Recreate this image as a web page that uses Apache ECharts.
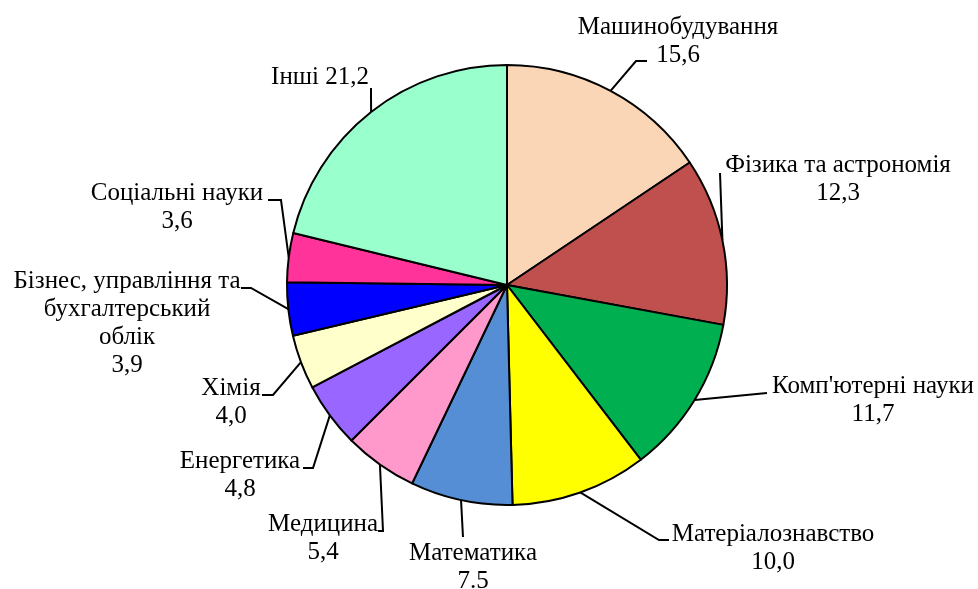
<!DOCTYPE html>
<html>
<head>
<meta charset="utf-8">
<script src="https://cdn.jsdelivr.net/npm/echarts@6/dist/echarts.min.js"></script>
<style>
html,body{margin:0;padding:0;background:#fff;}
#chart{width:978px;height:589px;}
</style>
</head>
<body>
<div id="chart"></div>
<script>
// ---- data ----
const categories = [
  'Машинобудування',
  'Фізика та астрономія',
  "Комп'ютерні науки",
  'Матеріалознавство',
  'Математика',
  'Медицина',
  'Енергетика',
  'Хімія',
  'Бізнес, управління та\nбухгалтерський\nоблік',
  'Соціальні науки',
  'Інші'
];
const values = [15.6, 12.3, 11.7, 10.0, 7.5, 5.4, 4.8, 4.0, 3.9, 3.6, 21.2];
const valueLabels = ['15,6', '12,3', '11,7', '10,0', '7.5', '5,4', '4,8', '4,0', '3,9', '3,6', '21,2'];
const colors = ['#FBD6B6', '#C0504D', '#00B050', '#FFFF00', '#558ED5', '#FF99CC',
                '#9966FF', '#FFFFCC', '#0000FF', '#FF3399', '#99FFCC'];

// ---- layout only: label block centres and leader-line end offsets ----
const labelCentres = [
  [678, 41], [838, 179], [873, 400], [773, 548], [473, 567], [323, 538],
  [240, 475], [231, 402], [127, 323], [177, 207], [320, 77]
];
// [dx, dy] of line end from label centre, [ex, ey] of elbow from line end
const leaderEnds = [
  [-31, 20, -11, 0], [-118, -6, 0, 0], [-106, -7, 0, 0], [-104, -8, -10, 0],
  [-10, -30, 0, 0], [55, -7, 5, 0], [63, -7, 10, 0], [31, -7, 11, 0],
  [114, -35, 10, 0], [91, -7, 13, 0], [51, 11, 0, 0]
];

const chart = echarts.init(document.getElementById('chart'), null, {renderer: 'canvas'});
chart.setOption({
  animation: false,
  series: [{
    type: 'pie',
    center: [507, 285],
    radius: [0, 220],
    startAngle: 90,
    clockwise: true,
    avoidLabelOverlap: false,
    data: categories.map((c, i) => ({
      name: c,
      value: values[i],
      itemStyle: {color: colors[i]}
    })),
    itemStyle: {borderColor: '#000', borderWidth: 2},
    label: {
      show: true,
      position: 'outer',
      fontFamily: '"Liberation Serif", "Times New Roman", serif',
      fontSize: 25,
      lineHeight: 28,
      color: '#000',
      formatter: p => {
        const i = p.dataIndex;
        if (i === categories.length - 1) return categories[i] + ' ' + valueLabels[i];
        return categories[i] + '\n' + valueLabels[i];
      }
    },
    labelLine: {
      show: true,
      length: 15,
      length2: 8,
      lineStyle: {color: '#000', width: 2}
    },
    labelLayout: p => {
      const i = p.dataIndex;
      const c = labelCentres[i];
      const l = leaderEnds[i];
      const end = [c[0] + l[0], c[1] + l[1]];
      const elbow = [end[0] + l[2], end[1] + l[3]];
      const res = {x: c[0], y: c[1], align: 'center', verticalAlign: 'middle'};
      if (p.labelLinePoints && p.labelLinePoints[0]) {
        const a = p.labelLinePoints[0];
        res.labelLinePoints = [[a[0], a[1]], elbow, end];
      }
      return res;
    },
    emphasis: {disabled: true}
  }]
});
</script>
</body>
</html>
